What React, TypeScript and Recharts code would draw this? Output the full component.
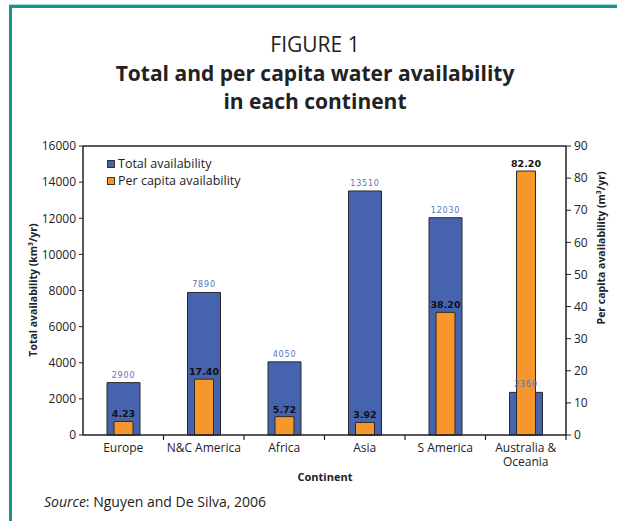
import React from 'react';
import { BarChart, Bar, XAxis, YAxis, LabelList, Legend, ReferenceLine } from 'recharts';

const categories = ['Europe', 'N&C America', 'Africa', 'Asia', 'S America', 'Australia & Oceania'];
const tickLabels = ['Europe', 'N&C America', 'Africa', 'Asia', 'S America', 'Australia &\nOceania'];
const totalAvailability = [2900, 7890, 4050, 13510, 12030, 2360];
const perCapitaAvailability = [4.23, 17.4, 5.72, 3.92, 38.2, 82.2];
const leftTicks = [0, 2000, 4000, 6000, 8000, 10000, 12000, 14000, 16000];
const rightTicks = [0, 10, 20, 30, 40, 50, 60, 70, 80, 90];
const legendOrder = ['total', 'perCapita'];

const data = categories.map((c, i) => ({
  continent: c,
  total: totalAvailability[i],
  perCapita: perCapitaAvailability[i],
  totalLabel: totalAvailability[i],
}));

const W = 617;
const H = 521;
const margin = { top: 146, right: 11, bottom: 46, left: 23 };
const leftAxisW = 60;
const rightAxisW = 40;
const xAxisH = 40;
const plotW = W - margin.left - margin.right - leftAxisW - rightAxisW;
const band = plotW / categories.length;

const FONT = '"Open Sans", "Noto Sans", sans-serif';
const BLUE = '#4664ae';
const ORANGE = '#f7962b';
const AXIS = '#222';

const CategoryTick = (props: any) => {
  const { x, y, payload } = props;
  const idx = categories.indexOf(payload.value);
  const lines = (tickLabels[idx] ?? String(payload.value)).split('\n');
  return (
    <g>
      <line x1={x + band / 2} x2={x + band / 2} y1={y} y2={y + 5} stroke={AXIS} strokeWidth={1.2} />
      <text x={x} y={y + 17} textAnchor="middle" fontFamily={FONT} fontSize={12} fill="#222">
        {lines.map((ln: string, i: number) => (
          <tspan key={i} x={x} dy={i === 0 ? 0 : 13.5}>
            {ln}
          </tspan>
        ))}
      </text>
    </g>
  );
};

const renderLegend = (props: any) => {
  const items = (props.payload || [])
    .filter((p: any) => p.type !== 'none' && legendOrder.includes(p.dataKey))
    .sort((a: any, b: any) => legendOrder.indexOf(a.dataKey) - legendOrder.indexOf(b.dataKey));
  return (
    <div style={{ fontFamily: FONT, fontSize: 12.5, color: '#222', lineHeight: '17px' }}>
      {items.map((p: any, i: number) => (
        <div key={i} style={{ display: 'flex', alignItems: 'center', whiteSpace: 'nowrap' }}>
          <span
            style={{
              display: 'inline-block',
              width: 6,
              height: 6,
              background: p.color,
              border: '1px solid #333',
              marginRight: 3,
            }}
          />
          <span>{p.value}</span>
        </div>
      ))}
    </div>
  );
};

export default function App() {
  return (
    <div style={{ position: 'absolute', left: 0, top: 0, width: W, height: H, background: '#fff', overflow: 'hidden' }}>
      <div
        style={{
          position: 'absolute',
          left: 9,
          top: 5,
          width: W - 9,
          height: H - 5,
          borderTop: '3px solid #14968f',
          borderLeft: '3px solid #14968f',
          boxShadow: '0 -1px 0 #a8dcd8',
          boxSizing: 'border-box',
        }}
      />
      <div style={{ position: 'absolute', left: 0, top: 0 }}>
        <BarChart width={W} height={H} data={data} margin={margin}>
          <XAxis
            xAxisId="a"
            dataKey="continent"
            height={xAxisH}
            axisLine={{ stroke: AXIS, strokeWidth: 1.5 }}
            tickLine={false}
            tickSize={0}
            tickMargin={0}
            interval={0}
            tick={<CategoryTick />}
          />
          <XAxis xAxisId="b" dataKey="continent" hide />
          <XAxis xAxisId="c" dataKey="continent" hide />
          <YAxis
            yAxisId="left"
            orientation="left"
            width={leftAxisW}
            domain={[0, 16000]}
            ticks={leftTicks}
            interval={0}
            axisLine={{ stroke: AXIS, strokeWidth: 1.5 }}
            tickLine={{ stroke: AXIS }}
            tickSize={4}
            tickMargin={3}
            tick={{ fontFamily: FONT, fontSize: 12, fill: '#222' }}
          />
          <YAxis
            yAxisId="right"
            orientation="right"
            width={rightAxisW}
            domain={[0, 90]}
            ticks={rightTicks}
            interval={0}
            axisLine={{ stroke: AXIS, strokeWidth: 1.5 }}
            tickLine={{ stroke: AXIS }}
            tickSize={5}
            tickMargin={3}
            tick={{ fontFamily: FONT, fontSize: 12, fill: '#222' }}
          />
          <ReferenceLine xAxisId="a" yAxisId="left" y={16000} stroke={AXIS} strokeWidth={1.5} />
          <Legend
            layout="vertical"
            verticalAlign="middle"
            align="center"
            wrapperStyle={{ left: 107, top: 155, width: 220, right: 'auto', bottom: 'auto' }}
            content={renderLegend}
          />
          <Bar
            xAxisId="a"
            yAxisId="left"
            dataKey="total"
            name="Total availability"
            fill={BLUE}
            stroke="#2a2a2a"
            strokeWidth={1}
            barSize={33}
            isAnimationActive={false}
          />
          <Bar
            xAxisId="b"
            yAxisId="right"
            dataKey="perCapita"
            name="Per capita availability"
            fill={ORANGE}
            stroke="#2a2a2a"
            strokeWidth={1}
            barSize={19}
            isAnimationActive={false}
          >
            <LabelList
              dataKey="perCapita"
              position="top"
              offset={4}
              formatter={(v: any) => Number(v).toFixed(2)}
              style={{ fontFamily: '"DejaVu Sans", sans-serif', fontWeight: 'bold', fontSize: 9.5, fill: '#111' }}
            />
          </Bar>
          <Bar
            xAxisId="c"
            yAxisId="left"
            dataKey="totalLabel"
            fill="none"
            stroke="none"
            barSize={33}
            legendType="none"
            isAnimationActive={false}
          >
            <LabelList
              dataKey="totalLabel"
              position="top"
              offset={5}
              style={{ fontFamily: '"DejaVu Sans", sans-serif', fontSize: 8, letterSpacing: 0.8, fill: '#5574c4' }}
            />
          </Bar>
        </BarChart>
      </div>
      <svg width={W} height={H} style={{ position: 'absolute', left: 0, top: 0, pointerEvents: 'none' }}>
        <g fontFamily={FONT} fill="#222" textAnchor="middle">
          <text x={315} y={52} fontSize={21}>FIGURE 1</text>
          <text x={315} y={81} fontSize={21} fontWeight="bold">Total and per capita water availability</text>
          <text x={315} y={109} fontSize={21} fontWeight="bold">in each continent</text>
          <text x={325} y={481} fontSize={11} fontWeight="bold">Continent</text>
          <text transform="translate(37,290) rotate(-90)" fontSize={10.5} fontWeight="bold">Total availability (km³/yr)</text>
          <text transform="translate(605,248) rotate(-90)" fontSize={10.5} fontWeight="bold">Per capita availability (m³/yr)</text>
        </g>
        <text x={44} y={507} fontFamily={FONT} fontSize={14} fill="#222">
          <tspan fontStyle="italic">Source</tspan>: Nguyen and De Silva, 2006
        </text>
      </svg>
    </div>
  );
}
